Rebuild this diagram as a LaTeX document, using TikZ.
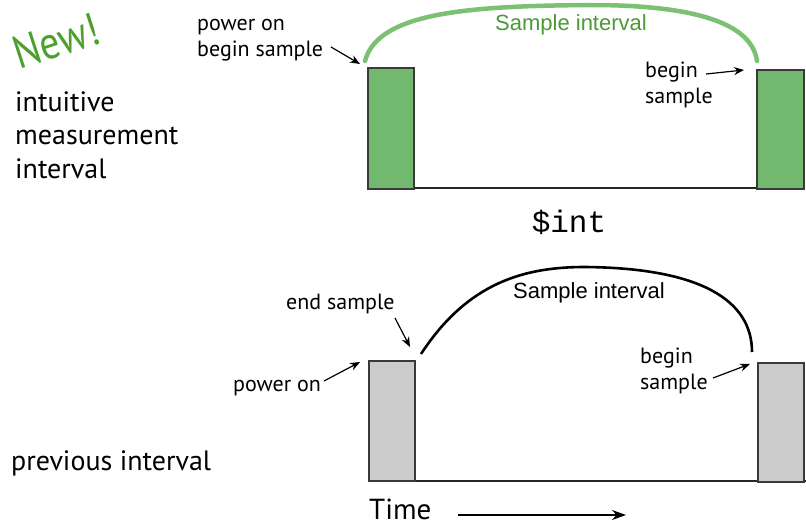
\documentclass[tikz,border=0pt]{standalone}
\usepackage{fontspec}
\setmainfont{PT Sans}
\newfontfamily\arialfont{Liberation Sans}
\newfontfamily\courfont{Liberation Mono}
\usetikzlibrary{arrows.meta}
\definecolor{boxgreen}{HTML}{72B96F}
\definecolor{arcgreen}{HTML}{7CC173}
\definecolor{txtgreen}{HTML}{4A9A36}
\definecolor{newgreen}{HTML}{4CA02E}
\definecolor{boxgray}{HTML}{CCCCCC}
\definecolor{edgegray}{HTML}{3A3A3A}
\tikzset{
  label/.style={inner sep=0pt, align=left, font=\fontsize{22}{25.5}\selectfont},
  bigtext/.style={inner sep=0pt, align=left, anchor=west, font=\fontsize{28}{33.5}\selectfont},
  gbox/.style={draw=edgegray, line width=1.6pt, fill=boxgreen},
  graybox/.style={draw=edgegray, line width=1.6pt, fill=boxgray},
  baseline/.style={draw=black!85, line width=2pt},
  pointer/.style={-{Stealth[length=10pt,width=8pt]}, line width=1.2pt},
}
\begin{document}
\begin{tikzpicture}[x=1pt,y=-1pt]
\useasboundingbox (0,0) rectangle (806,527);
\fill[white] (0,0) rectangle (806,527);

% left texts
\node[rotate=18, text=newgreen, inner sep=0pt, font=\fontsize{46}{46}\selectfont] (new) at (56,41) {\scalebox{0.86}[1]{New!}};
\node[bigtext] (intuitive) at (15,135) {intuitive\\measurement\\interval};
\node[bigtext] (previous) at (11,463) {previous interval};

% ---- top diagram ----
\draw[baseline] (367,188) -- (805,188);
\node[gbox, minimum width=46pt, minimum height=121pt, inner sep=0pt, anchor=north west] (g1) at (367,67) {};
\node[gbox, minimum width=47pt, minimum height=119pt, inner sep=0pt, anchor=north west] (g2) at (756,69) {};

\coordinate (ga) at (365,61);
\coordinate (gb) at (757,61);
\draw[arcgreen, line width=4.5pt, line cap=round] (ga) .. controls (378,12) and (470,6) .. (590,5) .. controls (700,5) and (752,25) .. (gb);
\node[text=txtgreen, inner sep=0pt, font=\arialfont\fontsize{22}{22}\selectfont] (si1) at (571,25) {Sample interval};

\node[label, anchor=west] (pwr1) at (197,40) {power on\\begin sample};
\coordinate (pwr1a) at (331,47);
\coordinate (pwr1b) at (360,64);
\draw[pointer] (pwr1a) -- (pwr1b);

\node[label, anchor=west] (bs1) at (645,85) {begin\\sample};
\coordinate (bs1a) at (706,74);
\coordinate (bs1b) at (744,70);
\draw[pointer] (bs1a) -- (bs1b);

\node[inner sep=0pt, font=\courfont\fontsize{31}{31}\selectfont] (int) at (569,222) {\$int};

% ---- bottom diagram ----
\draw[baseline] (368,481) -- (806,481);
\node[graybox, minimum width=46pt, minimum height=120pt, inner sep=0pt, anchor=north west] (r1) at (368,360) {};
\node[graybox, minimum width=46pt, minimum height=119pt, inner sep=0pt, anchor=north west] (r2) at (757,362) {};

\coordinate (ka) at (421,354);
\coordinate (kb) at (752,352);
\draw[black, line width=2.6pt] (ka) .. controls (468,282) and (525,267) .. (585,267) .. controls (700,268) and (752,300) .. (kb);
\node[inner sep=0pt, font=\arialfont\fontsize{22}{22}\selectfont] (si2) at (589,293) {Sample interval};

\node[label, anchor=west] (es) at (286,304) {end sample};
\coordinate (esa) at (395,318);
\coordinate (esb) at (410,347);
\draw[pointer] (esa) -- (esb);

\node[label, anchor=west] (po2) at (233,388) {power on};
\coordinate (po2a) at (324,381);
\coordinate (po2b) at (360,362);
\draw[pointer] (po2a) -- (po2b);

\node[label, anchor=west] (bs2) at (640,371) {begin\\sample};
\coordinate (bs2a) at (713,378);
\coordinate (bs2b) at (750,364);
\draw[pointer] (bs2a) -- (bs2b);

\node[inner sep=0pt, anchor=west, font=\fontsize{29}{29}\selectfont] (time) at (369,509) {Time};
\coordinate (ta) at (458,515);
\coordinate (tb) at (626,515);
\draw[-{Stealth[length=14pt,width=10pt]}, line width=1.3pt] (ta) -- (tb);
\end{tikzpicture}
\end{document}
